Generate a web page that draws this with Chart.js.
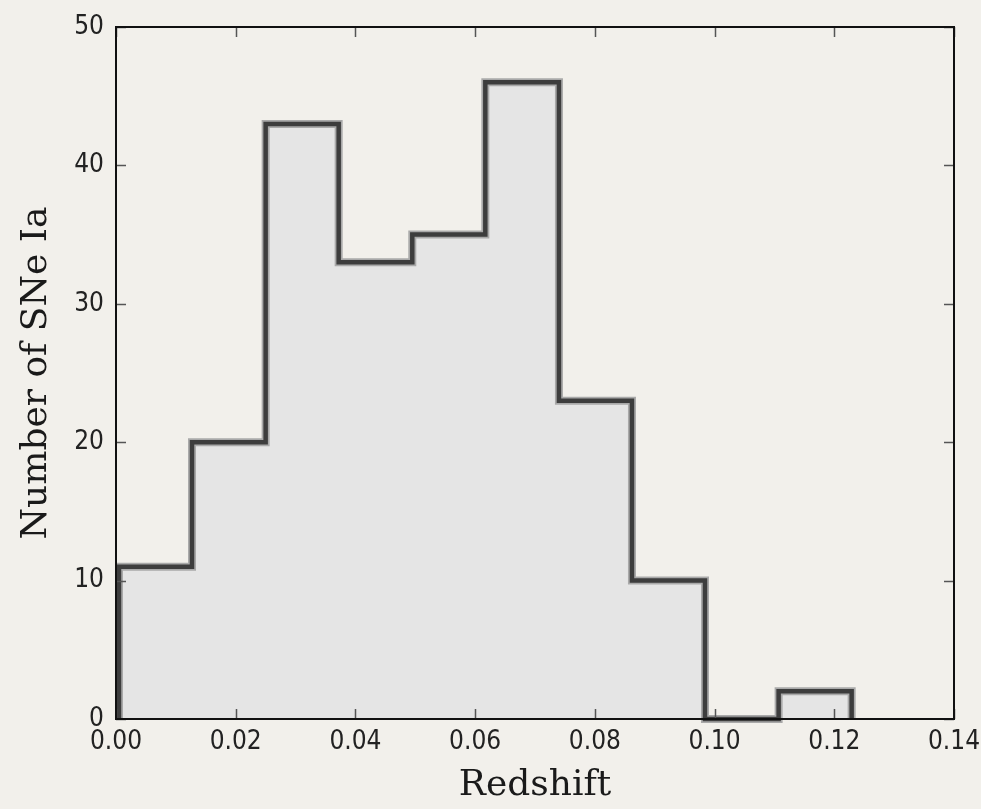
<!DOCTYPE html>
<html>
<head>
<meta charset="utf-8">
<script src="https://cdn.jsdelivr.net/npm/chart.js@4.4.1/dist/chart.umd.min.js"></script>
<style>
  html, body { margin: 0; padding: 0; background: #f2f0eb; }
  #wrap { width: 981px; height: 809px; position: relative; }
</style>
</head>
<body>
<div id="wrap"><canvas id="hist"></canvas></div>
<script>
// redshift histogram of the SN Ia sample
const binEdges = [0.0005, 0.0127, 0.0250, 0.0372, 0.0495, 0.0617, 0.0740, 0.0862, 0.0984, 0.1107, 0.1229];
const binCounts = [11, 20, 43, 33, 35, 46, 23, 10, 0, 2];
const xTicks = [0, 0.02, 0.04, 0.06, 0.08, 0.10, 0.12, 0.14];
const yTicks = [0, 10, 20, 30, 40, 50];

// step outline: up from zero at the first edge, one point per bin, back down at the last edge
let steps = [{x: binEdges[0], y: 0}];
binCounts.forEach((c, i) => {
    steps.push({x: binEdges[i], y: c});
});
steps.push({x: binEdges[binEdges.length - 1], y: binCounts[binCounts.length - 1]});
steps.push({x: binEdges[binEdges.length - 1], y: 0});

const tickFont = {family: "'DejaVu Sans Condensed', 'DejaVu Sans', sans-serif", size: 26};
const titleFont = {family: "'DejaVu Serif', serif", size: 36};

// box around the axes plus inward tick marks on all four sides
const frame = {
    id: 'frame',
    afterDraw(chart) {
        const ctx = chart.ctx;
        const a = chart.chartArea;
        const xs = chart.scales.x, ys = chart.scales.y;
        const len = 10;
        ctx.save();
        ctx.strokeStyle = '#555';
        ctx.lineWidth = 1.5;
        ctx.beginPath();
        xs.ticks.forEach(t => {
            const px = Math.round(xs.getPixelForValue(t.value)) + 0.5;
            ctx.moveTo(px, a.bottom); ctx.lineTo(px, a.bottom - len);
            ctx.moveTo(px, a.top); ctx.lineTo(px, a.top + len);
        });
        ys.ticks.forEach(t => {
            const py = Math.round(ys.getPixelForValue(t.value)) + 0.5;
            ctx.moveTo(a.left, py); ctx.lineTo(a.left + len, py);
            ctx.moveTo(a.right, py); ctx.lineTo(a.right - len, py);
        });
        ctx.stroke();
        ctx.strokeStyle = '#111';
        ctx.lineWidth = 2;
        ctx.strokeRect(a.left, a.top, a.right - a.left, a.bottom - a.top);
        ctx.restore();
    }
};

new Chart(document.getElementById('hist'), {
    type: 'line',
    data: {
        datasets: [{
            data: steps,
            stepped: 'before',
            borderColor: '#3d3d3d',
            borderWidth: 4.5,
            pointRadius: 0,
            fill: false,
            clip: 8
        }, {
            data: steps,
            stepped: 'before',
            borderColor: '#a9a9a9',
            borderWidth: 8,
            pointRadius: 0,
            fill: 'origin',
            backgroundColor: '#e5e5e5',
            clip: 8
        }]
    },
    options: {
        responsive: true,
        maintainAspectRatio: false,
        animation: false,
        layout: {padding: {left: 0, top: 27, right: 27, bottom: 0}},
        plugins: {legend: {display: false}, tooltip: {enabled: false}},
        scales: {
            x: {
                type: 'linear',
                min: 0, max: 0.14,
                afterBuildTicks: s => { s.ticks = xTicks.map(v => ({value: v})); },
                afterFit: s => { s.height = 90; s.paddingLeft = 0; s.paddingRight = 0; },
                grid: {display: false, drawTicks: false},
                border: {display: false},
                ticks: {
                    padding: 8,
                    color: '#222',
                    font: tickFont,
                    maxRotation: 0,
                    callback: v => v.toFixed(2)
                },
                title: {
                    display: true,
                    text: 'Redshift',
                    color: '#1a1a1a',
                    font: titleFont,
                    padding: {top: 0, bottom: 2}
                }
            },
            y: {
                min: 0, max: 50,
                afterBuildTicks: s => { s.ticks = yTicks.map(v => ({value: v})); },
                afterFit: s => { s.width = 116; s.paddingTop = 0; s.paddingBottom = 0; },
                grid: {display: false, drawTicks: false},
                border: {display: false},
                ticks: {
                    padding: 12,
                    color: '#222',
                    font: tickFont
                },
                title: {
                    display: true,
                    text: 'Number of SNe Ia',
                    color: '#1a1a1a',
                    font: titleFont,
                    padding: {top: 15, bottom: 0}
                }
            }
        }
    },
    plugins: [frame]
});
</script>
</body>
</html>
